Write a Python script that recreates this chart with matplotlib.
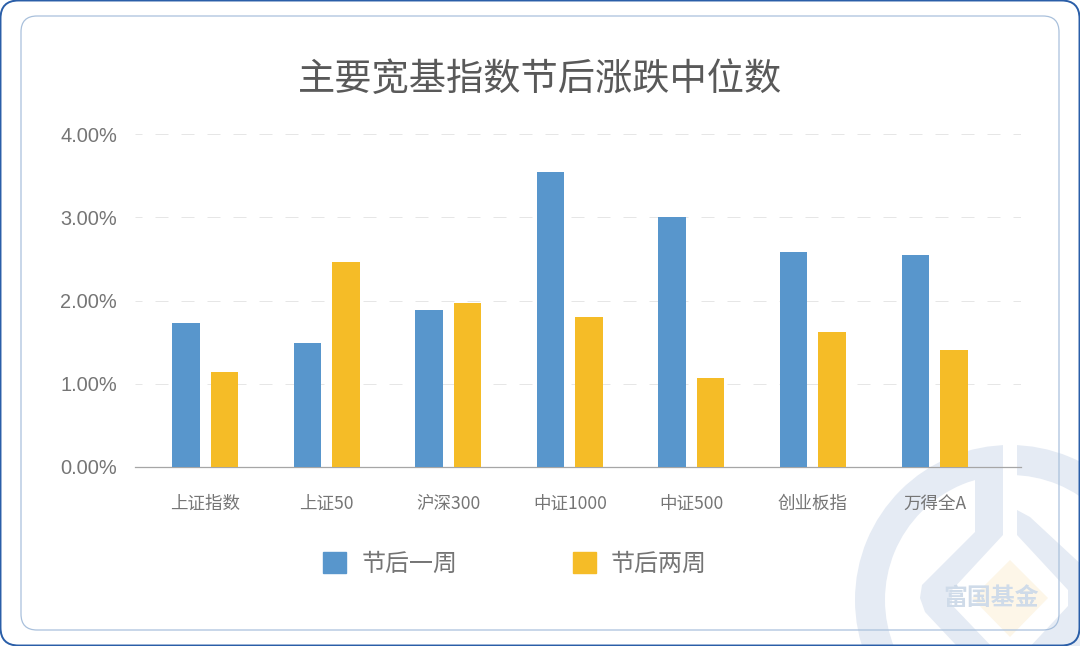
# Import libraries
import numpy as np
import matplotlib
matplotlib.use('Agg')
import matplotlib.pyplot as plt
from matplotlib.patches import FancyBboxPatch, Polygon, Wedge, Patch

plt.rcParams['font.family'] = ['Noto Sans CJK SC', 'DejaVu Sans']

# Chart data
categories = ['上证指数', '上证50', '沪深300', '中证1000', '中证500', '创业板指', '万得全A']
week_one = [1.73, 1.49, 1.885, 3.54, 3.00, 2.58, 2.55]
week_two = [1.14, 2.46, 1.97, 1.80, 1.07, 1.62, 1.41]
y_ticks = [0, 1, 2, 3, 4]

BLUE = '#5896cc'
YELLOW = '#f5bc27'
TEXT = '#757575'
WATER = '#e5ebf4'

W, H = 1080, 646
fig = plt.figure(figsize=(W / 100, H / 100), dpi=100, facecolor='white')

# Background layer in pixel coordinates: frames and watermark
bg = fig.add_axes([0, 0, 1, 1], zorder=0)
bg.set_xlim(0, W)
bg.set_ylim(H, 0)
bg.axis('off')

bg.add_patch(Wedge((1010, 600), 155, 0, 360, width=30, facecolor=WATER, edgecolor='none'))
bg.add_patch(Polygon([(975, 470), (1003, 470), (1003, 520), (1017, 520), (1017, 510),
                      (1030, 517), (1085, 568), (1085, 660), (970, 660), (925, 612),
                      (920, 598), (922, 585), (975, 532)],
                     facecolor=WATER, edgecolor='none'))
# White inside of the flask and the slot at its neck
bg.add_patch(Polygon([(1003, 535), (952, 590), (952, 605), (995, 650), (1027, 650),
                      (1068, 606), (1068, 590), (1017, 535)],
                     facecolor='white', edgecolor='none'))
bg.add_patch(Polygon([(1003, 440), (1017, 440), (1017, 540), (1003, 540)],
                     facecolor='white', edgecolor='none'))
bg.add_patch(Polygon([(1010, 560), (1048, 598), (1010, 637), (972, 598)],
                     facecolor='#fdf6e8', edgecolor='none'))
bg.text(991, 598, '富国基金', fontsize=17.2, fontweight='bold', color='#cfdbe9',
        ha='center', va='center')

bg.add_patch(FancyBboxPatch((21, 16), 1038, 614, boxstyle='round,pad=0,rounding_size=16',
                            facecolor='none', edgecolor='#a9c0dc', linewidth=0.9))
bg.add_patch(FancyBboxPatch((0.5, 0.5), 1079, 645, boxstyle='round,pad=0,rounding_size=18',
                            facecolor='none', edgecolor='#2a5ea8', linewidth=1.4))

# Chart axes, from x=135..1021 px and y=134..467 px
ax = fig.add_axes([135 / W, 1 - 467 / H, 886 / W, 333 / H], zorder=1)
ax.patch.set_alpha(0)

x = np.arange(len(categories))
bar_width = 27.5 / 121.6
offset = 19.25 / 121.6
ax.bar(x - offset, week_one, bar_width, color=BLUE, zorder=3)
ax.bar(x + offset, week_two, bar_width, color=YELLOW, zorder=3)

ax.set_xlim(-70 / 121.6, 816 / 121.6)
ax.set_ylim(0, 4)
ax.set_yticks(y_ticks)
ax.set_yticklabels([f'{v:.2f}%' for v in y_ticks], fontsize=14.4, color=TEXT,
                   family=['Liberation Sans', 'DejaVu Sans'])
ax.set_xticks(x)
ax.set_xticklabels(categories, fontsize=12.6, color=TEXT)
ax.tick_params(axis='both', length=0)
ax.tick_params(axis='x', pad=20)
ax.tick_params(axis='y', pad=13)
ax.grid(axis='y', color='#e6e6e6', linewidth=0.72, linestyle=(6, (13, 13)), zorder=0)

for name in ['top', 'right', 'left']:
    ax.spines[name].set_visible(False)
ax.spines['bottom'].set_color('#a6a6a6')
ax.spines['bottom'].set_linewidth(0.9)

fig.text(540 / W, 1 - 79 / H, '主要宽基指数节后涨跌中位数', fontsize=26.8, color='#595959',
         ha='center', va='center')

handles = [Patch(color=BLUE, label='节后一周'), Patch(color=YELLOW, label='节后两周')]
fig.legend(handles=handles, loc='center', bbox_to_anchor=(515 / W, 1 - 564 / H), ncol=2,
           frameon=False, fontsize=17.3, labelcolor=TEXT, handlelength=0.96, handleheight=0.96,
           handletextpad=0.62, columnspacing=4.8)

fig.savefig('out.png', dpi=100)
